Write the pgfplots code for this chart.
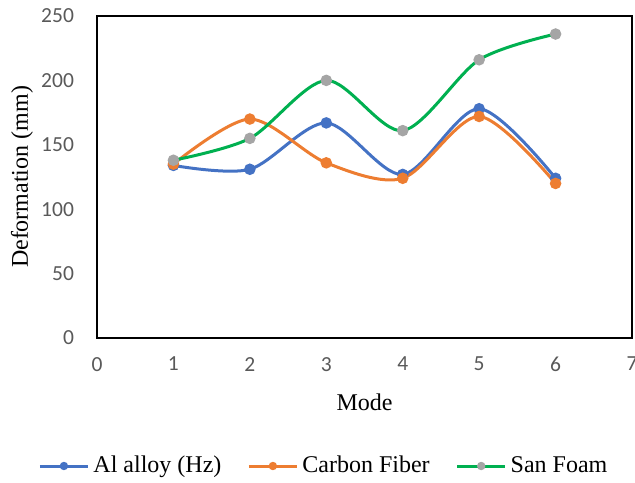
\documentclass[border=0pt]{standalone}
\usepackage{pgfplots}
\pgfplotsset{compat=1.18}
\usepackage{fontspec}
\setmainfont{Liberation Serif}
\newfontfamily\calibri{Carlito}
\usetikzlibrary{calc}
\definecolor{cblue}{HTML}{4472C4}
\definecolor{corange}{HTML}{ED7D31}
\definecolor{cgreen}{HTML}{00B050}
\definecolor{cgray}{HTML}{A5A5A5}
\definecolor{ticktext}{HTML}{595959}
\begin{document}
\begin{tikzpicture}
\begin{axis}[
  scale only axis, width=267.5pt, height=161pt,
  xmin=0, xmax=7, ymin=0, ymax=250,
  xtick={0,1,...,7}, ytick={0,50,...,250},
  major tick length=0pt,
  axis line style={line width=1.4pt},
  tick label style={font=\calibri\fontsize{10.75}{12}\selectfont, text=ticktext},
  /pgf/number format/assume math mode=true,
  xticklabel style={yshift=-6pt},
  yticklabel style={xshift=-8pt},
  xlabel={Mode}, ylabel={Deformation (mm)},
  label style={font=\fontsize{12}{14}\selectfont},
  xlabel style={at={(axis description cs:0.5,-0.199)}, anchor=center},
  ylabel style={at={(axis description cs:-0.14,0.5)}, anchor=center},
  legend style={at={(axis description cs:0.426,-0.3975)}, anchor=center, draw=none,
    legend columns=3, font=\fontsize{12}{14}\selectfont,
    /tikz/every even column/.append style={column sep=11pt}},
  legend image code/.code={\draw[mark repeat=2,mark phase=2,mark size=1.3pt] plot coordinates {(0pt,0pt)(12pt,0pt)(24pt,0pt)};},
  every axis plot/.append style={line width=1.5pt, smooth, tension=0.5, mark=*, mark size=2.1pt},
]
\addplot[color=cblue, mark options={fill=cblue, draw=cblue}] coordinates {
  (1,134) (2,131) (3,167) (4,127) (5,178) (6,124)};
\addlegendentry{Al alloy (Hz)}
\addplot[color=corange, mark options={fill=corange, draw=corange}] coordinates {
  (1,135) (2,170) (3,136) (4,124) (5,172) (6,120)};
\addlegendentry{Carbon Fiber}
\addplot[color=cgreen, mark options={fill=cgray, draw=cgray}] coordinates {
  (1,138) (2,155) (3,200) (4,161) (5,216) (6,236)};
\addlegendentry{San Foam}
\end{axis}
\pgfresetboundingbox
\path ($(current axis.south west)+(-48.5pt,-72pt)$) rectangle ($(current axis.north east)+(1.5pt,8pt)$);
\end{tikzpicture}
\end{document}
